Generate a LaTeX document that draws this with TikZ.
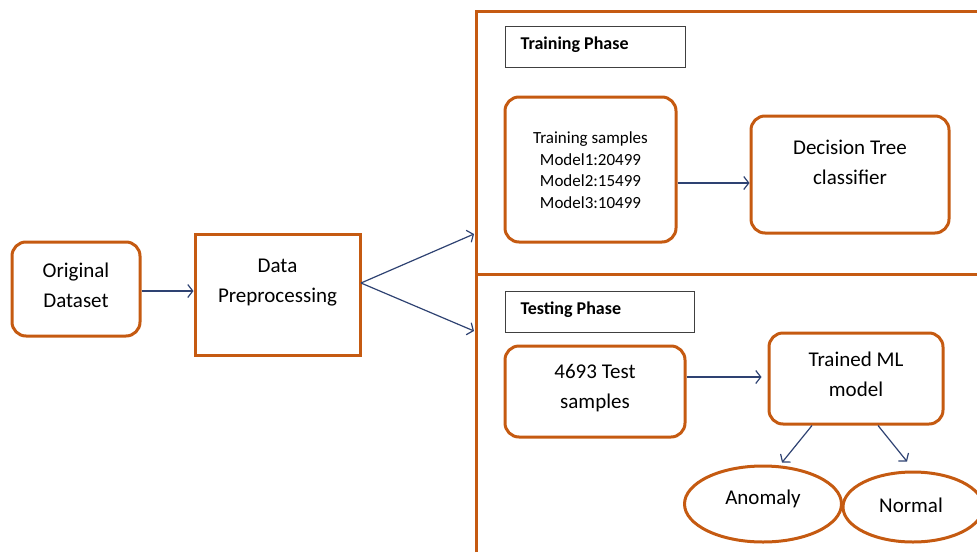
\documentclass[tikz,border=0pt]{standalone}
\usepackage{fontspec}
\setmainfont{Carlito}
\usetikzlibrary{positioning,shapes.geometric,arrows.meta}
\definecolor{boxorange}{HTML}{C55A11}
\definecolor{arrownavy}{HTML}{2E4272}

\begin{document}
\begin{tikzpicture}[x=1pt,y=-1pt,
  rbox/.style={draw=boxorange,line width=3pt,rounded corners=14pt,inner sep=0pt},
  sbox/.style={draw=boxorange,line width=3pt,inner sep=0pt},
  phase/.style={draw=black!75,line width=1pt,inner sep=0pt,minimum height=41pt},
  oval/.style={ellipse,draw=boxorange,line width=3pt,inner sep=0pt},
  txt/.style={align=center,font=\fontsize{21}{30}\selectfont},
  small/.style={align=center,font=\fontsize{17}{21.5}\selectfont},
  head/.style={anchor=west,font=\fontsize{18}{20}\selectfont\bfseries},
  flow/.style={->,>={Straight Barb[length=5pt,width=13pt]},draw=arrownavy,line width=1.2pt}]
  \useasboundingbox (0,0) rectangle (977,552);

  % outer frame, split in two phases
  \draw[boxorange,line width=3pt] (476,552) -- (476,11) -- (977,11);
  \draw[boxorange,line width=3pt] (476,274) -- (977,274);

  % left part
  \node[rbox,minimum width=128pt,minimum height=94pt] (orig) at (76,289) {};
  \node[txt] (origtxt) at (76,285) {Original\\Dataset};
  \node[sbox,minimum width=165pt,minimum height=121pt] (prep) at (277.5,294.5) {};
  \node[txt] (preptxt) at (277.5,283) {Data\\Preprocessing};

  % training phase
  \node[phase,minimum width=180pt] (trainhead) at (595,46.5) {};
  \node[head] (trainheadtxt) at (517,45) {Training Phase};
  \node[rbox,minimum width=171pt,minimum height=145pt] (train) at (590.5,169.5) {};
  \node[small] (traintxt) at (590.5,170) {Training samples\\Model1:20499\\Model2:15499\\Model3:10499};
  \node[rbox,minimum width=198pt,minimum height=117pt] (dt) at (850,174.5) {};
  \node[txt] (dttxt) at (850,162) {Decision Tree\\classifier};

  % testing phase
  \node[phase,minimum width=189pt] (testhead) at (599.5,311.5) {};
  \node[head] (testheadtxt) at (517,310) {Testing Phase};
  \node[rbox,minimum width=180pt,minimum height=91pt] (test) at (595,391.5) {};
  \node[txt] (testtxt) at (595,388) {4693 Test\\samples};
  \node[rbox,minimum width=174pt,minimum height=91pt] (ml) at (856,378.5) {};
  \node[txt] (mltxt) at (856,374) {Trained ML\\model};
  \node[oval,minimum width=157pt,minimum height=76pt] (anom) at (763,504) {};
  \node[txt] (anomtxt) at (763,499) {Anomaly};
  \node[oval,minimum width=140pt,minimum height=70pt] (norm) at (913,507) {};
  \node[txt] (normtxt) at (911,505) {Normal};

  % connectors
  \coordinate (fork) at (361,283);
  \coordinate (trainin) at (474,234);
  \coordinate (testin) at (474,331);
  \draw[flow] ([yshift=-2pt]orig.east) -- ([yshift=-2pt]orig.east -| prep.west);
  \draw[flow] (fork) -- (trainin);
  \draw[flow] (fork) -- (testin);
  \draw[flow] ([yshift=-13.5pt]train.east) -- ([yshift=-13.5pt]train.east -| dt.west);
  \draw[flow] ([yshift=14.5pt]test.east) -- ([xshift=-6pt,yshift=14.5pt]test.east -| ml.west);
  \draw[flow] ([xshift=-44pt]ml.south) -- ([xshift=19pt,yshift=2pt]anom.north);
  \draw[flow] ([xshift=22pt]ml.south) -- ([xshift=-6pt,yshift=9pt]norm.north);
\end{tikzpicture}
\end{document}
